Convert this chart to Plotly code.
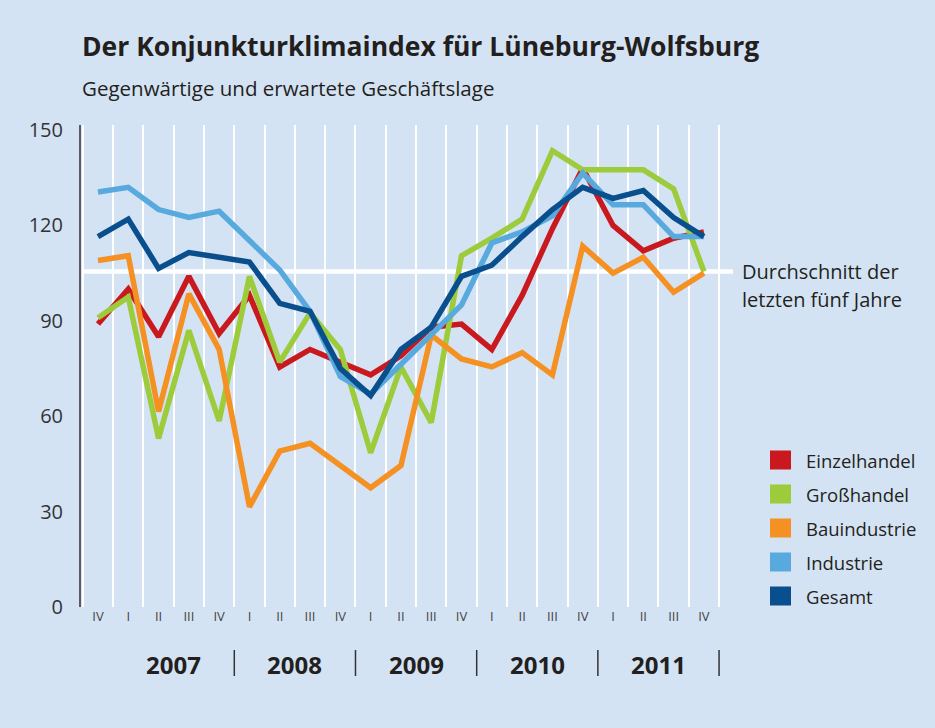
import plotly.graph_objects as go

# ---------------- data ----------------
quarters = ["IV", "I", "II", "III", "IV", "I", "II", "III", "IV", "I", "II", "III",
            "IV", "I", "II", "III", "IV", "I", "II", "III", "IV"]
years = ["2007", "2008", "2009", "2010", "2011"]

einzelhandel = [89, 100, 85, 104, 86, 98, 75.5, 81, 77, 73, 79, 88, 89, 81, 98, 119, 138, 120, 112, 116, 118]
grosshandel = [91, 97.5, 53, 87, 58.5, 104, 77, 92.5, 81, 48.5, 75.5, 58, 110.5, 116, 122, 143.5, 137.5, 137.5, 137.5, 131.5, 105.5]
bauindustrie = [109, 110.5, 61.5, 98.5, 81, 31.5, 49, 51.5, 44.5, 37.5, 44.5, 85.5, 78, 75.5, 80, 73, 113.5, 105, 110, 99, 105]
industrie = [130.5, 132, 125, 122.5, 124.5, 115.5, 106, 93, 72.5, 67, 76.5, 86, 95, 114.5, 118, 123, 136.5, 126.5, 126.5, 116.5, 116.5]
gesamt = [116.5, 122, 106.5, 111.5, 110, 108.5, 95.5, 93, 75, 66.5, 81, 88, 104, 107.5, 116.5, 125, 132, 128.5, 131, 122.5, 116.5]
durchschnitt = 105.5

series_names = ["Einzelhandel", "Großhandel", "Bauindustrie", "Industrie", "Gesamt"]
series_values = [einzelhandel, grosshandel, bauindustrie, industrie, gesamt]
series_colors = ["#C9191F", "#9CCB3B", "#F59022", "#58A9DD", "#0A4F8D"]

y_ticks = [0, 30, 60, 90, 120, 150]

# ---------------- layout geometry ----------------
W, H = 935, 728
L, R, T, B = 81, 733, 125, 607      # plot area in pixels
BG = "#D4E3F3"
TXT = "#231F20"
FONT = "Open Sans"


def px(xp):
    return (xp - L) / (R - L)


def py(yp):
    return (B - yp) / (B - T)


x_idx = list(range(len(quarters)))

fig = go.Figure()
for name, vals, col in zip(series_names, series_values, series_colors):
    fig.add_trace(go.Scatter(x=x_idx, y=vals, mode="lines", name=name,
                             line=dict(color=col, width=5.5), showlegend=False,
                             hoverinfo="skip"))

shapes = []
annotations = []

# average line (white)
shapes.append(dict(type="line", xref="paper", yref="y", x0=px(82.5), x1=1.0,
                   y0=durchschnitt, y1=durchschnitt, layer="below",
                   line=dict(color="white", width=4.5)))

# year separators and labels
for k, yr in enumerate(years):
    first = 1 + 4 * k
    center = first + 1.5
    annotations.append(dict(x=center, xref="x", y=py(664), yref="paper",
                            text="<b>%s</b>" % yr, showarrow=False,
                            font=dict(family=FONT, size=24, color=TXT),
                            xanchor="center", yanchor="middle"))
    sep = first + 3.5
    shapes.append(dict(type="line", xref="x", yref="paper", x0=sep, x1=sep,
                       y0=py(676), y1=py(650), line=dict(color="#333333", width=1.5)))

# title / subtitle
annotations.append(dict(x=px(80), y=py(46), xref="paper", yref="paper",
                        text="<b>Der Konjunkturklimaindex für Lüneburg-Wolfsburg</b>",
                        showarrow=False, xanchor="left", yanchor="middle",
                        font=dict(family=FONT, size=26.5, color=TXT)))
annotations.append(dict(x=px(80), y=py(88), xref="paper", yref="paper",
                        text="Gegenwärtige und erwartete Geschäftslage",
                        showarrow=False, xanchor="left", yanchor="middle",
                        font=dict(family=FONT, size=20.5, color=TXT)))

# average label
annotations.append(dict(x=px(740), y=py(271), xref="paper", yref="paper",
                        text="Durchschnitt der", showarrow=False,
                        xanchor="left", yanchor="middle",
                        font=dict(family=FONT, size=20, color=TXT)))
annotations.append(dict(x=px(740), y=py(299), xref="paper", yref="paper",
                        text="letzten fünf Jahre", showarrow=False,
                        xanchor="left", yanchor="middle",
                        font=dict(family=FONT, size=20, color=TXT)))

# custom legend
for i, (name, col) in enumerate(zip(series_names, series_colors)):
    yc = 460 + 34 * i
    shapes.append(dict(type="rect", xref="paper", yref="paper",
                       x0=px(770), x1=px(791), y0=py(yc + 9.5), y1=py(yc - 9.5),
                       fillcolor=col, line=dict(width=0)))
    annotations.append(dict(x=px(804), y=py(yc), xref="paper", yref="paper",
                            text=name, showarrow=False, xanchor="left", yanchor="middle",
                            font=dict(family=FONT, size=18.5, color=TXT)))

fig.update_layout(
    width=W, height=H,
    margin=dict(l=L, r=W - R, t=T, b=H - B),
    paper_bgcolor=BG, plot_bgcolor=BG,
    shapes=shapes, annotations=annotations,
    xaxis=dict(range=[-0.56, 20.96], tickmode="array", tickvals=x_idx,
               ticktext=quarters, showgrid=False, zeroline=False, showline=False,
               ticks="", tickfont=dict(family=FONT, size=13, color="#444444"),
               minor=dict(tick0=0.5, dtick=1, showgrid=True, gridcolor="white",
                          gridwidth=1.5, ticks=""),
               fixedrange=True),
    yaxis=dict(range=[0, 151.6], tickmode="array", tickvals=y_ticks,
               showgrid=False, zeroline=False, showline=True, linecolor="#5A5A60",
               linewidth=2, ticks="", ticklabelstandoff=12,
               tickfont=dict(family=FONT, size=20, color="#333333"),
               fixedrange=True),
    showlegend=False,
)

fig.write_html("out.html", config={"displayModeBar": False},
               post_script="document.body.style.margin='0';document.body.style.padding='0';")
